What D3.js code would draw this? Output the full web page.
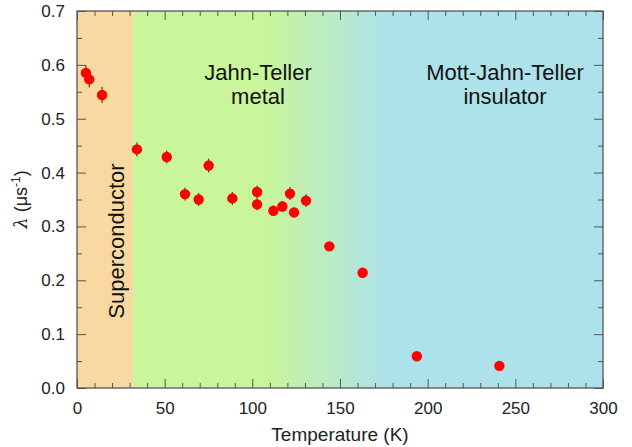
<!DOCTYPE html>
<html>
<head>
<meta charset="utf-8">
<script src="https://cdn.jsdelivr.net/npm/d3@7"></script>
<style>
  body { margin: 0; background: #fff; }
  svg { font-family: "Liberation Sans", Arial, sans-serif; }
</style>
</head>
<body>
<div id="container"></div>
<script>
// muon relaxation rate vs temperature
const temps = [5.1, 7.0, 14.3, 34.2, 51.2, 75.1, 61.6, 69.4, 88.6, 102.7, 102.7,
               112.0, 117.1, 121.5, 123.8, 130.6, 143.9, 162.9, 193.8, 240.9]
const lambdas = [0.585, 0.573, 0.544, 0.443, 0.429, 0.413, 0.360, 0.350, 0.352, 0.364, 0.341,
                 0.329, 0.337, 0.361, 0.326, 0.348, 0.263, 0.214, 0.059, 0.041]
const errors = [0.014, 0.015, 0.015, 0.013, 0.012, 0.013, 0.012, 0.012, 0.012, 0.012, 0.011,
                0.009, 0.010, 0.012, 0.009, 0.012, 0.007, 0.007, 0.006, 0.006]

const xTicks = [0, 50, 100, 150, 200, 250, 300]
const yTicks = [0, 0.1, 0.2, 0.3, 0.4, 0.5, 0.6, 0.7]

// phase boundaries (K)
const scEdge = 32
const fadeStart = 108
const fadeEnd = 177

const width = 632
const height = 447
const margin = {left: 77, top: 11, right: 29, bottom: 59}

const x = d3.scaleLinear().domain([0, 300]).range([margin.left, width - margin.right])
const y = d3.scaleLinear().domain([0, 0.7]).range([height - margin.bottom, margin.top])

const svg = d3.select("#container").append("svg")
    .attr("width", width)
    .attr("height", height)

const defs = svg.append("defs")
const grad = defs.append("linearGradient")
    .attr("id", "fade")
    .attr("gradientUnits", "userSpaceOnUse")
    .attr("x1", x(fadeStart)).attr("x2", x(fadeEnd))
    .attr("y1", 0).attr("y2", 0)
grad.append("stop").attr("offset", 0).attr("stop-color", "#c9f59b")
grad.append("stop").attr("offset", 1).attr("stop-color", "#ade2ea")

// backgrounds
svg.append("rect")
    .attr("x", x(scEdge)).attr("y", y(0.7))
    .attr("width", x(300) - x(scEdge)).attr("height", y(0) - y(0.7))
    .attr("fill", "url(#fade)")
svg.append("rect")
    .attr("x", x(0)).attr("y", y(0.7))
    .attr("width", x(scEdge) - x(0)).attr("height", y(0) - y(0.7))
    .attr("fill", "#f9d9a1")

// region labels
svg.append("text")
    .attr("transform", `translate(${x(scEdge) - 9}, 241) rotate(-90)`)
    .attr("text-anchor", "middle")
    .attr("font-size", 22)
    .attr("fill", "#111")
    .text("Superconductor")

const lab1 = svg.append("text")
    .attr("text-anchor", "middle")
    .attr("font-size", 22)
    .attr("fill", "#111")
lab1.append("tspan").attr("x", 258).attr("y", 80).text("Jahn-Teller")
lab1.append("tspan").attr("x", 258).attr("y", 104).text("metal")

const lab2 = svg.append("text")
    .attr("text-anchor", "middle")
    .attr("font-size", 22)
    .attr("fill", "#111")
lab2.append("tspan").attr("x", 505).attr("y", 80).text("Mott-Jahn-Teller")
lab2.append("tspan").attr("x", 505).attr("y", 104).text("insulator")

// axes
const axisColor = "#555"
const major = 9
const minor = 5

function styleAxis(g) {
    g.select(".domain").remove()
    g.selectAll(".tick line").attr("stroke", axisColor)
    g.selectAll(".tick text").attr("fill", "#222").attr("font-size", 17)
        .attr("font-family", "Liberation Sans, Arial, sans-serif")
}

const isXMajor = d => xTicks.includes(d)
const isYMajor = d => yTicks.some(t => Math.abs(t - d) < 1e-6)

// bottom / top: minor every 10 K, major every 50 K
svg.append("g")
    .attr("transform", `translate(0, ${y(0)})`)
    .call(d3.axisBottom(x).tickValues(d3.range(0, 301, 10)).tickFormat(""))
    .call(styleAxis)
    .selectAll(".tick line").attr("y2", d => isXMajor(d) ? -major : -minor)

svg.append("g")
    .attr("transform", `translate(0, ${y(0)})`)
    .call(d3.axisBottom(x).tickValues(xTicks).tickSize(0).tickPadding(14))
    .call(styleAxis)

svg.append("g")
    .attr("transform", `translate(0, ${y(0.7)})`)
    .call(d3.axisTop(x).tickValues(d3.range(0, 301, 10)).tickFormat(""))
    .call(styleAxis)
    .selectAll(".tick line").attr("y2", d => isXMajor(d) ? major : minor)

// left / right: minor every 0.05, major every 0.1
svg.append("g")
    .attr("transform", `translate(${x(0)}, 0)`)
    .call(d3.axisLeft(y).tickValues(d3.range(0, 0.701, 0.05)).tickFormat(""))
    .call(styleAxis)
    .selectAll(".tick line").attr("x2", d => isYMajor(d) ? major : minor)

svg.append("g")
    .attr("transform", `translate(${x(0)}, 0)`)
    .call(d3.axisLeft(y).tickValues(yTicks).tickSize(0).tickPadding(12)
        .tickFormat(d3.format(".1f")))
    .call(styleAxis)

svg.append("g")
    .attr("transform", `translate(${x(300)}, 0)`)
    .call(d3.axisRight(y).tickValues(d3.range(0, 0.701, 0.05)).tickFormat(""))
    .call(styleAxis)
    .selectAll(".tick line").attr("x2", d => isYMajor(d) ? -major : -minor)

// frame
svg.append("rect")
    .attr("x", x(0)).attr("y", y(0.7))
    .attr("width", x(300) - x(0)).attr("height", y(0) - y(0.7))
    .attr("fill", "none")
    .attr("stroke", axisColor)
    .attr("stroke-width", 1.3)

// axis titles
svg.append("text")
    .attr("x", (x(0) + x(300)) / 2)
    .attr("y", 441)
    .attr("text-anchor", "middle")
    .attr("font-size", 19)
    .attr("fill", "#222")
    .text("Temperature (K)")

const yt = svg.append("text")
    .attr("transform", `translate(27, ${(y(0) + y(0.7)) / 2}) rotate(-90)`)
    .attr("text-anchor", "middle")
    .attr("font-size", 18)
    .attr("fill", "#222")
yt.append("tspan").attr("font-family", "DejaVu Serif, serif").attr("font-style", "italic").text("λ")
yt.append("tspan").text(" (μs")
yt.append("tspan").attr("font-size", 12).attr("dy", -7).text("-1")
yt.append("tspan").attr("dy", 7).text(")")

// data
const pts = temps.map((t, i) => ({t: t, v: lambdas[i], e: errors[i]}))

svg.selectAll(".err")
    .data(pts)
    .enter()
    .append("line")
    .attr("class", "err")
    .attr("x1", d => x(d.t)).attr("x2", d => x(d.t))
    .attr("y1", d => y(d.v - d.e)).attr("y2", d => y(d.v + d.e))
    .attr("stroke", "#222")
    .attr("stroke-width", 1)

svg.selectAll(".pt")
    .data(pts)
    .enter()
    .append("circle")
    .attr("class", "pt")
    .attr("cx", d => x(d.t))
    .attr("cy", d => y(d.v))
    .attr("r", 5.2)
    .attr("fill", "#ff0000")
</script>
</body>
</html>
